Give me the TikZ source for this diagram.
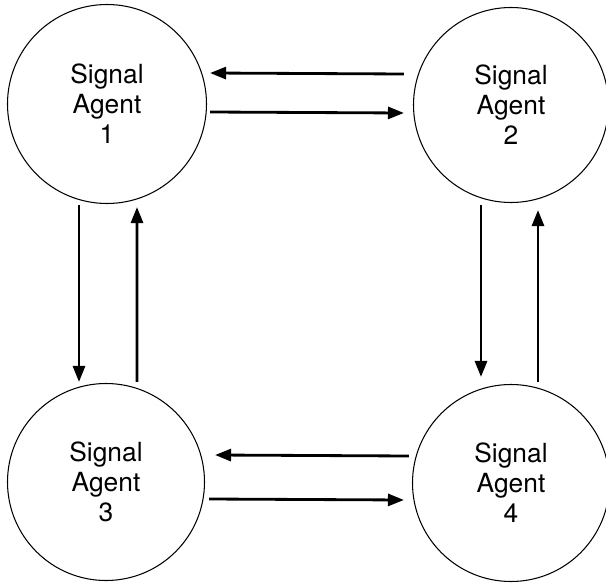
\documentclass[tikz,border=0pt]{standalone}
\usepackage{fontspec}
\setmainfont{TeX Gyre Heros}
\usetikzlibrary{positioning,arrows.meta}

\begin{document}
\begin{tikzpicture}%
  [agent/.style=
    {draw,circle,line width=0.6pt,minimum size=3.94cm,align=center,
     font=\fontsize{15}{17}\selectfont},
   flow/.style={line width=1.6pt,-{Triangle[length=3.2mm,width=2.4mm]}}
  ]
  \useasboundingbox (0,0) rectangle (12.12,11.68);
  \node[agent,minimum size=3.98cm] (a1) at (2.14,9.6) {Signal\\Agent\\1};
  \node[agent,minimum size=3.9cm] (a2) at (10.22,9.58) {Signal\\Agent\\2};
  \node[agent] (a3) at (2.12,2.04) {Signal\\Agent\\3};
  \node[agent] (a4) at (10.22,2.02) {Signal\\Agent\\4};
  % top pair
  \draw[flow] ([shift={(-0.18,0.62)}]a2.west) -- ([shift={(0.06,0.62)}]a1.east);
  \draw[flow] ([shift={(0.06,-0.16)}]a1.east) -- ([shift={(-0.18,-0.16)}]a2.west);
  % left pair
  \draw[flow] ([shift={(-0.56,-0.02)}]a1.south) -- ([shift={(-0.54,0.02)}]a3.north);
  \draw[flow] ([shift={(0.62,0.02)}]a3.north) -- ([shift={(0.6,-0.06)}]a1.south);
  % right pair
  \draw[flow] ([shift={(-0.6,-0.04)}]a2.south) -- ([shift={(-0.6,0.14)}]a4.north);
  \draw[flow] ([shift={(0.54,0.04)}]a4.north) -- ([shift={(0.54,-0.14)}]a2.south);
  % bottom pair
  \draw[flow] ([shift={(-0.06,0.54)}]a4.west) -- ([shift={(0.2,0.54)}]a3.east);
  \draw[flow] ([shift={(0.08,-0.34)}]a3.east) -- ([shift={(-0.16,-0.34)}]a4.west);

\end{tikzpicture}
\end{document}
